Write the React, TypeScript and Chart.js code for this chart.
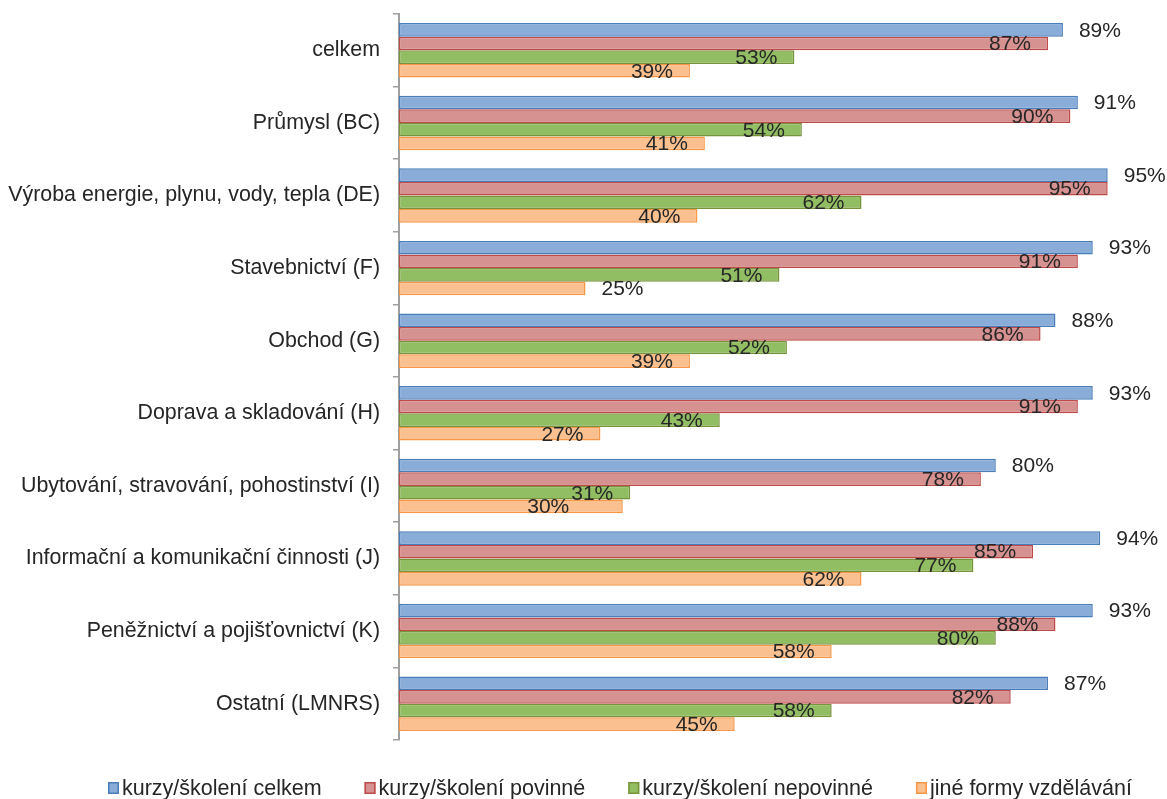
import React, { useEffect, useRef } from "react";
import { Chart, registerables } from "chart.js";

Chart.register(...registerables);

const categories = [
  "celkem",
  "Průmysl (BC)",
  "Výroba energie, plynu, vody, tepla (DE)",
  "Stavebnictví (F)",
  "Obchod (G)",
  "Doprava a skladování (H)",
  "Ubytování, stravování, pohostinství (I)",
  "Informační a komunikační činnosti (J)",
  "Peněžnictví a pojišťovnictví (K)",
  "Ostatní (LMNRS)",
];

const seriesNames = [
  "kurzy/školení celkem",
  "kurzy/školení povinné",
  "kurzy/školení nepovinné",
  "jiné formy vzdělávání",
];

const kurzyCelkem = [89, 91, 95, 93, 88, 93, 80, 94, 93, 87];
const kurzyPovinne = [87, 90, 95, 91, 86, 91, 78, 85, 88, 82];
const kurzyNepovinne = [53, 54, 62, 51, 52, 43, 31, 77, 80, 58];
const jineFormy = [39, 41, 40, 25, 39, 27, 30, 62, 58, 45];

const fills = ["#8AACD8", "#D69191", "#92BE63", "#FAC090"];
const borders = ["#4A7EBB", "#BE4B48", "#77933C", "#F79646"];

const FONT = "'Liberation Sans', Arial, sans-serif";
const TEXT = "#262626";

const labelPlugin = {
  id: "barLabels",
  afterDatasetsDraw(chart: any) {
    const ctx = chart.ctx;
    ctx.save();
    ctx.font = `21px ${FONT}`;
    ctx.fillStyle = TEXT;
    ctx.textBaseline = "middle";
    const n = chart.data.labels.length;
    for (let i = 0; i < n; i++) {
      let prev: { l: number; r: number } | null = null;
      chart.data.datasets.forEach((ds: any, d: number) => {
        const bar = chart.getDatasetMeta(d).data[i];
        const v = ds.data[i];
        const txt = `${v}%`;
        const w = ctx.measureText(txt).width;
        let l: number;
        if (d === 0 || v <= 25) {
          l = bar.x + 16;
        } else {
          l = bar.x - 17 - w;
          if (prev && l + w > prev.l && l < prev.r) {
            l = prev.l - w - 2;
          }
        }
        ctx.textAlign = "left";
        ctx.fillText(txt, l, bar.y + 1);
        prev = { l, r: l + w };
      });
    }
    ctx.restore();
  },
};

const legendPlugin = {
  id: "customLegend",
  afterDraw(chart: any) {
    const ctx = chart.ctx;
    ctx.save();
    ctx.font = `21.5px ${FONT}`;
    ctx.textBaseline = "middle";
    const y = 788;
    let x = 108;
    seriesNames.forEach((name, i) => {
      ctx.fillStyle = fills[i];
      ctx.fillRect(x, y - 6, 11, 12);
      ctx.strokeStyle = borders[i];
      ctx.lineWidth = 1.5;
      ctx.strokeRect(x + 0.75, y - 5.25, 9.5, 10.5);
      ctx.fillStyle = TEXT;
      ctx.textAlign = "left";
      const tx = x + 14;
      ctx.fillText(name, tx, y + 1);
      x = tx + ctx.measureText(name).width + 43;
    });
    ctx.restore();
  },
};

export default function App() {
  const ref = useRef<HTMLCanvasElement>(null);
  useEffect(() => {
    if (!ref.current) return;
    const series = [kurzyCelkem, kurzyPovinne, kurzyNepovinne, jineFormy];
    const chart = new Chart(ref.current, {
      type: "bar",
      data: {
        labels: categories,
        datasets: series.map((data, i) => ({
          label: seriesNames[i],
          data,
          backgroundColor: fills[i],
          borderColor: borders[i],
          borderWidth: 1.5,
          borderSkipped: false,
          categoryPercentage: 0.75,
          barPercentage: 1,
        })),
      },
      options: {
        indexAxis: "y",
        animation: false,
        responsive: true,
        maintainAspectRatio: false,
        devicePixelRatio: 1,
        layout: { padding: { top: 14, right: 22, bottom: 59, left: 0 } },
        plugins: { legend: { display: false }, tooltip: { enabled: false } },
        scales: {
          x: { display: false, min: 0, max: 100 },
          y: {
            afterFit(scale: any) {
              scale.width = 399;
              scale.paddingTop = 0;
              scale.paddingBottom = 0;
            },
            grid: {
              drawOnChartArea: false,
              offset: true,
              tickLength: 6,
              color: "#A0A0A0",
              lineWidth: 1.5,
            },
            border: { display: true, color: "#A0A0A0", width: 2 },
            ticks: {
              padding: 13,
              color: TEXT,
              font: { family: FONT, size: 21.4 },
            },
          },
        },
      },
      plugins: [labelPlugin, legendPlugin],
    } as any);
    return () => chart.destroy();
  }, []);
  return (
    <div style={{ position: "absolute", left: 0, top: 0, width: 1167, height: 799, background: "#fff" }}>
      <canvas ref={ref} />
    </div>
  );
}
